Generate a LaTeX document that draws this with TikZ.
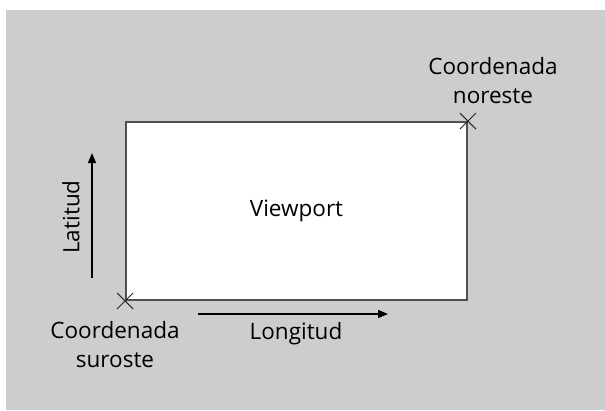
\documentclass[tikz,border=0pt]{standalone}
\usepackage{fontspec}
\setmainfont{Open Sans}
\usetikzlibrary{arrows.meta}
\definecolor{bggray}{HTML}{CDCDCD}
\definecolor{framegray}{HTML}{505050}
\tikzset{
  lbl/.style={font=\fontsize{22.5}{29}\selectfont, align=center, inner sep=0pt, text=black},
  axisarrow/.style={line width=1.2pt, -{Triangle[length=10pt,width=8pt]}},
  cross/.style={line width=1pt, black!85}
}
\begin{document}
\begin{tikzpicture}[x=1pt,y=-1pt]
\useasboundingbox (0,0) rectangle (605,410);
\fill[bggray] (6,10) rectangle (605,410);
\node[draw=framegray, line width=1.8pt, fill=white, minimum width=341pt, minimum height=178pt, inner sep=0pt, lbl] (vp) at (296.5,211) {Viewport};
\coordinate (sw) at (vp.south west);
\coordinate (ne) at (vp.north east);
\draw[cross] ([shift={(-8pt,-8pt)}]sw) -- ([shift={(8pt,8pt)}]sw) ([shift={(-8pt,8pt)}]sw) -- ([shift={(8pt,-8pt)}]sw);
\draw[cross] ([shift={(-8pt,-8pt)}]ne) -- ([shift={(8pt,8pt)}]ne) ([shift={(-8pt,8pt)}]ne) -- ([shift={(8pt,-8pt)}]ne);
\coordinate (lat0) at (92,278);
\coordinate (lat1) at (92,153);
\draw[axisarrow] (lat0) -- (lat1);
\coordinate (lon0) at (198,314);
\coordinate (lon1) at (388,314);
\draw[axisarrow] (lon0) -- (lon1);
\node[lbl, rotate=90] (latl) at (71,217) {Latitud};
\node[lbl] (lonl) at (296,334) {Longitud};
\node[lbl] (nel) at (493,81) {Coordenada\\noreste};
\node[lbl] (swl) at (115,345) {Coordenada\\suroste};
\end{tikzpicture}
\end{document}
